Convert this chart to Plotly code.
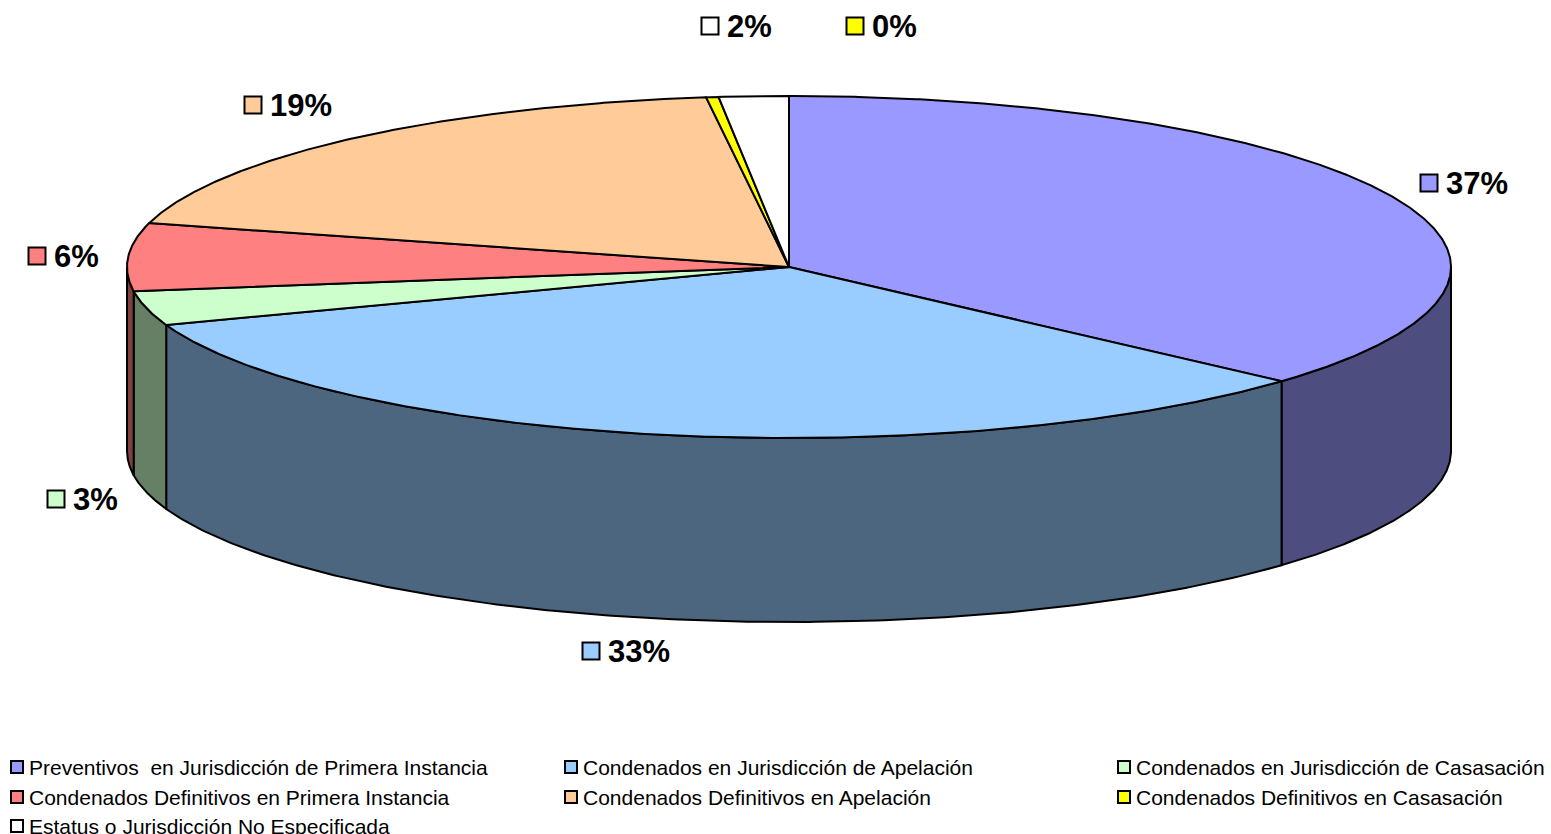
import numpy as np
import plotly.graph_objects as go

# ---- data ----
categories = [
    "Preventivos&nbsp; en Jurisdicción de Primera Instancia",
    "Condenados en Jurisdicción de Apelación",
    "Condenados en Jurisdicción de Casasación",
    "Condenados Definitivos en Primera Instancia",
    "Condenados Definitivos en Apelación",
    "Condenados Definitivos en Casasación",
    "Estatus o Jurisdicción No Especificada",
]
values = [36.7, 32.9, 3.25, 6.4, 18.9, 0.3, 1.7]
top_colors = ["#9999FF", "#99CCFF", "#CCFFCC", "#FF8080", "#FFCC99", "#FFFF00", "#FFFFFF"]
side_colors = ["#4D4D80", "#4D6680", "#668066", "#804040", "#806633", "#808000", "#808080"]

# ---- layout geometry ----
W, H = 1551, 834
cx, cy = 789, 267
rx, ry = 662, 171
depth = 184
font = "Arial, Liberation Sans, sans-serif"

# label anchor positions (square centre) for each slice
label_pos = [(1429, 183), (591, 651), (56, 499), (37, 256), (253, 105), (855, 26), (710, 26)]

total = sum(values)
angles = np.cumsum([0] + [v / total * 360 for v in values])


def pt(t, dy=0.0):
    r = np.radians(t)
    return cx + rx * np.sin(r), cy - ry * np.cos(r) + dy


fig = go.Figure()

# side walls (front half only: 90..270 deg)
for i in range(len(values)):
    a1, a2 = angles[i], angles[i + 1]
    lo, hi = max(a1, 90), min(a2, 270)
    if hi <= lo:
        continue
    ts = np.linspace(lo, hi, 200)
    xt, yt = pt(ts)
    xb, yb = pt(ts[::-1], depth)
    xs = np.concatenate([xt, xb, xt[:1]])
    ys = np.concatenate([yt, yb, yt[:1]])
    fig.add_trace(go.Scatter(x=xs, y=ys, mode="lines", fill="toself",
                             fillcolor=side_colors[i],
                             line=dict(color="black", width=2),
                             hoverinfo="skip", showlegend=False))

# top faces
for i in range(len(values)):
    a1, a2 = angles[i], angles[i + 1]
    n = max(int((a2 - a1) * 3), 4)
    ts = np.linspace(a1, a2, n)
    xt, yt = pt(ts)
    xs = np.concatenate([[cx], xt, [cx]])
    ys = np.concatenate([[cy], yt, [cy]])
    fig.add_trace(go.Scatter(x=xs, y=ys, mode="lines", fill="toself",
                             fillcolor=top_colors[i],
                             line=dict(color="black", width=2),
                             name=categories[i],
                             hoverinfo="name", showlegend=False))

# data labels
annotations = []
for i, v in enumerate(values):
    lx, ly = label_pos[i]
    fig.add_trace(go.Scatter(x=[lx], y=[ly], mode="markers",
                             marker=dict(symbol="square", size=17, color=top_colors[i],
                                         line=dict(color="black", width=2)),
                             hoverinfo="skip", showlegend=False))
    pct = round(v / total * 100)
    annotations.append(dict(x=lx + 15, y=ly, xref="x", yref="y", text=f"<b>{pct}%</b>",
                            showarrow=False, xanchor="left", yanchor="middle",
                            font=dict(family=font, size=31, color="black")))

# legend (manual, 3 columns)
col_x = [17, 571, 1124]
row_y = [767, 797, 826]
for i, cat in enumerate(categories):
    lx, ly = col_x[i % 3], row_y[i // 3]
    fig.add_trace(go.Scatter(x=[lx], y=[ly], mode="markers",
                             marker=dict(symbol="square", size=12, color=top_colors[i],
                                         line=dict(color="black", width=2)),
                             hoverinfo="skip", showlegend=False))
    annotations.append(dict(x=lx + 10, y=ly, xref="x", yref="y", text=cat,
                            showarrow=False, xanchor="left", yanchor="middle",
                            font=dict(family=font, size=21, color="black")))

fig.update_layout(
    width=W, height=H,
    margin=dict(l=0, r=0, t=0, b=0),
    paper_bgcolor="white", plot_bgcolor="white",
    xaxis=dict(range=[0, W], visible=False, fixedrange=True),
    yaxis=dict(range=[H, 0], visible=False, fixedrange=True),
    annotations=annotations,
    showlegend=False,
)

fig.write_html("out.html", config={"displayModeBar": False},
               post_script="document.body.style.margin='0';document.body.style.overflow='hidden';")
